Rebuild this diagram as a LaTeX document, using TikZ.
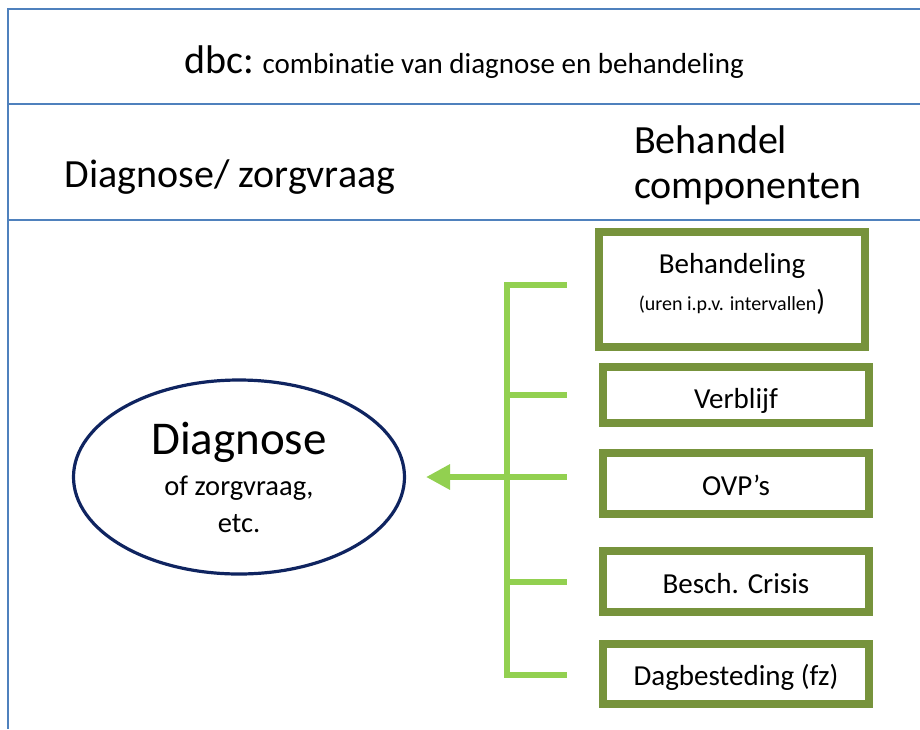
\documentclass[tikz,border=0pt]{standalone}
\usepackage{fontspec}
\setmainfont[Ligatures={NoCommon}]{Carlito}
\usetikzlibrary{arrows.meta,shapes.geometric}
\definecolor{frameblue}{HTML}{4F81BD}
\definecolor{boxgreen}{HTML}{77933C}
\definecolor{linkgreen}{HTML}{92D050}
\definecolor{navy}{HTML}{0F2460}
\newcommand{\fs}[1]{\fontsize{#1}{#1}\selectfont}
\tikzset{
  frame/.style={draw=frameblue, line width=2.8pt},
  compbox/.style={draw=boxgreen, line width=8pt, fill=white, minimum width=266pt, inner sep=0pt},
  boxtext/.style={anchor=base, inner sep=0pt, font=\fs{29}},
  txt/.style={anchor=base, inner sep=0pt},
  link/.style={draw=linkgreen, line width=6.5pt},
}
\begin{document}
\begin{tikzpicture}[x=1pt,y=-1pt]
\useasboundingbox (0,0) rectangle (920,729);
% frame lines
\draw[frame] (920,9) -- (8,9) -- (8,729);
\draw[frame] (8,104) -- (920,104);
\draw[frame] (8,220) -- (920,220);
% header texts
\node[txt] (title) at (464,73) {\fs{40}dbc:\fs{29} combinatie van diagnose en behandeling};
\node[txt] (diaghead) at (230,187) {\fs{40}Diagnose/ zorgvraag};
\node[txt, anchor=base west] (behhead1) at (634,153) {\fs{40}Behandel};
\node[txt, anchor=base west] (behhead2) at (634,198) {\fs{40}componenten};
% ellipse
\node[draw=navy, line width=3.2pt, ellipse, minimum width=331pt, minimum height=194pt] (diag) at (239,477) {};
\node[txt] (diagtxt) at (239,454) {\fs{47}Diagnose};
\node[txt] (diagsub) at (239,495) {\fs{28.5}of zorgvraag,};
\node[txt] (diagetc) at (239,532) {\fs{28.5}etc.};
% component boxes
\node[compbox, minimum height=115pt] (beh) at (732,289.5) {};
\node[boxtext] (behtxt) at (732,273) {Behandeling};
\node[txt] (behsub) at (732,310) {\fs{20}(uren i.p.v. intervallen\fs{29})};
\node[compbox, minimum height=56pt] (verb) at (736,395) {};
\node[boxtext] (verbtxt) at (736,408) {Verblijf};
\node[compbox, minimum height=61pt] (ovp) at (736,483.5) {};
\node[boxtext] (ovptxt) at (736,495) {OVP’s};
\node[compbox, minimum height=61pt] (crisis) at (736,581.5) {};
\node[boxtext] (crisistxt) at (736,593) {Besch. Crisis};
\node[compbox, minimum height=60pt] (dag) at (736,674) {};
\node[boxtext] (dagtxt) at (736,685) {Dagbesteding (fz)};
% bracket connector
\coordinate (top) at (507,285);
\coordinate (bot) at (507,677);
\coordinate (s1) at (567,285);
\coordinate (s2) at (567,395);
\coordinate (s3) at (567,477);
\coordinate (s4) at (567,582);
\coordinate (s5) at (567,675);
\coordinate (mid) at (507,477);
\coordinate (tip) at (426,477);
\draw[link] (top) -- (bot);
\draw[link] (504,285) -- (s1);
\draw[link] (507,395) -- (s2);
\draw[link] (507,477) -- (s3);
\draw[link] (507,582) -- (s4);
\draw[link] (504,675) -- (s5);
\draw[link, -{Triangle[width=24pt,length=24pt]}] (mid) -- (tip);
\end{tikzpicture}
\end{document}
